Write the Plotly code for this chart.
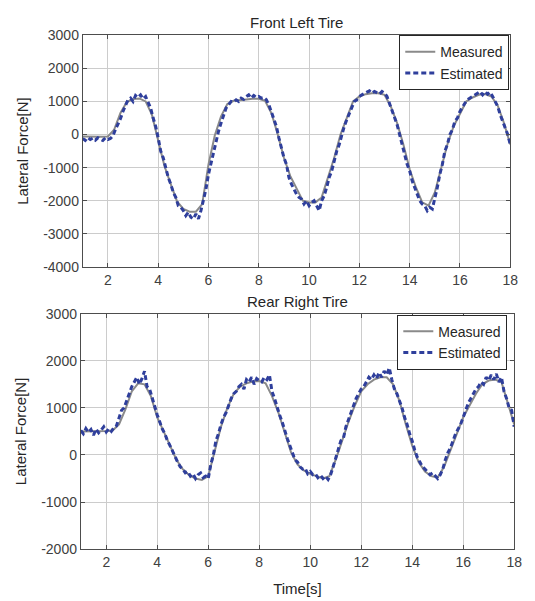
import plotly.graph_objects as go

# ---------------- data ----------------
t_meas = [1 + 0.25 * i for i in range(69)]
t_est = [round(1 + 0.1 * i, 1) for i in range(171)]

fl_measured = [
    -60, -70, -80, -70, -60, 150, 650, 980, 1070, 1090, 1000, 600,
    -180, -950, -1500, -2020, -2250, -2330, -2330, -2100, -900, -30, 550, 920,
    1020, 1050, 1060, 1080, 1080, 1020, 650, 20, -700, -1250, -1650, -2000,
    -2050, -2050, -1900, -1300, -700, 0, 500, 1000, 1150, 1220, 1250, 1250,
    1200, 850, 350, -300, -1050, -1600, -2050, -2150, -1750, -1050, -300, 250,
    650, 1000, 1120, 1200, 1220, 1150, 880, 350, -300,
]

fl_estimated = [
    -120, -180, -90, -150, -110, -170, -100, -140, -180, -100,
    -150, -120, -40, 150, 300, 480, 700, 900, 1050, 1100,
    1000, 1180, 1120, 1200, 1080, 1150, 950, 800, 500, 250,
    -100, -500, -700, -1000, -1300, -1500, -1750, -1900, -2150, -2200,
    -2300, -2450, -2350, -2500, -2550, -2400, -2550, -2300, -2000, -1650,
    -1200, -850, -500, -200, 100, 350, 600, 800, 900, 1000,
    980, 1050, 1000, 1100, 1060, 1150, 1200, 1100, 1180, 1120,
    1150, 1100, 1120, 1050, 900, 700, 450, 250, -100, -400,
    -700, -900, -1300, -1500, -1650, -1800, -1900, -1950, -2100, -2000,
    -2150, -2050, -2000, -2150, -2300, -2000, -1850, -1600, -1300, -1100,
    -800, -500, -300, 0, 250, 450, 650, 800, 1000, 1050,
    1150, 1200, 1250, 1280, 1320, 1250, 1300, 1260, 1220, 1300,
    1250, 1150, 950, 700, 500, 300, 0, -300, -600, -900,
    -1100, -1400, -1600, -1800, -2000, -2100, -2150, -2300, -2200, -2250,
    -1950, -1600, -1200, -900, -500, -300, 0, 150, 400, 500,
    700, 850, 950, 1050, 1100, 1150, 1200, 1250, 1300, 1200,
    1300, 1220, 1280, 1150, 1000, 850, 600, 400, 150, 0,
    -300,
]

rr_measured = [
    500, 500, 500, 500, 510, 520, 650, 970, 1350, 1520, 1500, 1250,
    800, 500, 200, -100, -300, -430, -500, -530, -450, 100, 600, 1000,
    1300, 1450, 1520, 1560, 1570, 1520, 1250, 900, 450, 50, -200, -330,
    -400, -450, -500, -450, -100, 300, 700, 1050, 1350, 1500, 1600, 1650,
    1650, 1500, 1150, 650, 200, -150, -350, -450, -480, -250, 100, 450,
    800, 1050, 1300, 1500, 1580, 1600, 1550, 1100, 650,
]

rr_estimated = [
    520, 450, 560, 480, 540, 420, 550, 470, 530, 600,
    490, 560, 500, 580, 620, 800, 950, 1000, 1150, 1300,
    1450, 1550, 1650, 1500, 1620, 1780, 1450, 1400, 1200, 1050,
    850, 700, 550, 450, 300, 200, 80, -50, -150, -250,
    -300, -380, -350, -450, -400, -500, -420, -380, -480, -450,
    -500, -200, 0, 300, 450, 650, 800, 900, 1050, 1200,
    1300, 1350, 1450, 1500, 1400, 1600, 1550, 1650, 1500, 1620,
    1580, 1550, 1650, 1600, 1700, 1350, 1200, 1000, 850, 700,
    500, 350, 200, 50, -100, -150, -250, -300, -280, -400,
    -350, -420, -400, -480, -430, -500, -450, -520, -420, -250,
    -50, 100, 300, 350, 600, 750, 900, 1050, 1200, 1300,
    1400, 1450, 1550, 1650, 1600, 1700, 1620, 1750, 1650, 1780,
    1700, 1850, 1600, 1400, 1300, 1150, 1000, 800, 650, 450,
    300, 100, -50, -150, -250, -300, -350, -420, -380, -450,
    -500, -420, -300, -100, 50, 150, 300, 450, 550, 650,
    800, 950, 1100, 1200, 1300, 1400, 1450, 1550, 1500, 1650,
    1580, 1700, 1600, 1720, 1550, 1650, 1350, 1200, 1000, 950,
    600,
]

x_ticks = [2, 4, 6, 8, 10, 12, 14, 16, 18]
x_ticktext = ["2", "4", "6", "8", "10", "12", "14", "16", "18"]
y1_ticks = [-4000, -3000, -2000, -1000, 0, 1000, 2000, 3000]
y1_ticktext = ["-4000", "-3000", "-2000", "-1000", "0", "1000", "2000", "3000"]
y2_ticks = [-2000, -1000, 0, 1000, 2000, 3000]
y2_ticktext = ["-2000", "-1000", "0", "1000", "2000", "3000"]

top_title = "Front Left Tire"
bottom_title = "Rear Right Tire"
y_title = "Lateral Force[N]"
x_title = "Time[s]"
names = ["Measured", "Estimated"]

# ---------------- figure ----------------
W, H = 535, 601
GRAY = "#8a8a8a"
BLUE = "#2f3f9c"
FONT = "Liberation Sans, Arial, sans-serif"
EST_LINE = dict(color=BLUE, width=3, dash="5px,3px")
MEAS_LINE = dict(color=GRAY, width=2)

fig = go.Figure()
fig.add_trace(go.Scatter(x=t_meas, y=fl_measured, mode="lines", name=names[0],
                         line=MEAS_LINE, xaxis="x", yaxis="y", legend="legend"))
fig.add_trace(go.Scatter(x=t_est, y=fl_estimated, mode="lines", name=names[1],
                         line=EST_LINE, xaxis="x", yaxis="y", legend="legend"))
fig.add_trace(go.Scatter(x=t_meas, y=rr_measured, mode="lines", name=names[0],
                         line=MEAS_LINE, xaxis="x2", yaxis="y2", legend="legend2"))
fig.add_trace(go.Scatter(x=t_est, y=rr_estimated, mode="lines", name=names[1],
                         line=EST_LINE, xaxis="x2", yaxis="y2", legend="legend2"))

axis_common = dict(
    showline=True, linecolor="#4d4d4d", linewidth=1, mirror="ticks",
    ticks="inside", ticklen=4, tickcolor="#4d4d4d",
    showgrid=True, gridcolor="#cccccc", gridwidth=1, zeroline=False,
    tickfont=dict(family=FONT, size=14, color="#404040"),
)
ytitle_font = dict(family=FONT, size=15, color="#262626")
legend_common = dict(xanchor="right", yanchor="top",
                     bgcolor="white", bordercolor="#262626", borderwidth=1,
                     font=dict(family=FONT, size=14, color="#262626"),
                     tracegroupgap=0, itemwidth=30)

fig.update_layout(
    width=W, height=H,
    margin=dict(l=0, r=0, t=0, b=0),
    paper_bgcolor="white", plot_bgcolor="white",
    font=dict(family=FONT, size=14, color="#262626"),
    xaxis=dict(domain=[84 / W, 518 / W], range=[1, 18], anchor="y",
               tickvals=x_ticks, ticktext=x_ticktext, **axis_common),
    yaxis=dict(domain=[1 - 266 / H, 1 - 28 / H], range=[-4000, 3000], anchor="x",
               tickvals=y1_ticks, ticktext=y1_ticktext,
               title=dict(text=y_title, font=ytitle_font, standoff=10),
               **axis_common),
    xaxis2=dict(domain=[82 / W, 522 / W], range=[1, 18], anchor="y2",
                tickvals=x_ticks, ticktext=x_ticktext,
                title=dict(text=x_title, font=dict(family=FONT, size=15, color="#262626"), standoff=14),
                **axis_common),
    yaxis2=dict(domain=[1 - 556 / H, 1 - 314 / H], range=[-2000, 3000], anchor="x2",
                tickvals=y2_ticks, ticktext=y2_ticktext,
                title=dict(text=y_title, font=ytitle_font, standoff=10),
                **axis_common),
    legend=dict(x=517 / W, y=1 - 28 / H, **legend_common),
    legend2=dict(x=515 / W, y=1 - 315 / H, **legend_common),
    annotations=[
        dict(text=top_title, x=301 / W, y=1 - 15 / H, xref="paper", yref="paper",
             showarrow=False, xanchor="center", yanchor="middle",
             font=dict(family=FONT, size=15, color="#262626")),
        dict(text=bottom_title, x=302 / W, y=1 - 302 / H, xref="paper", yref="paper",
             showarrow=False, xanchor="center", yanchor="middle",
             font=dict(family=FONT, size=15, color="#262626")),
    ],
    showlegend=True,
)

fig.write_html("out.html")
